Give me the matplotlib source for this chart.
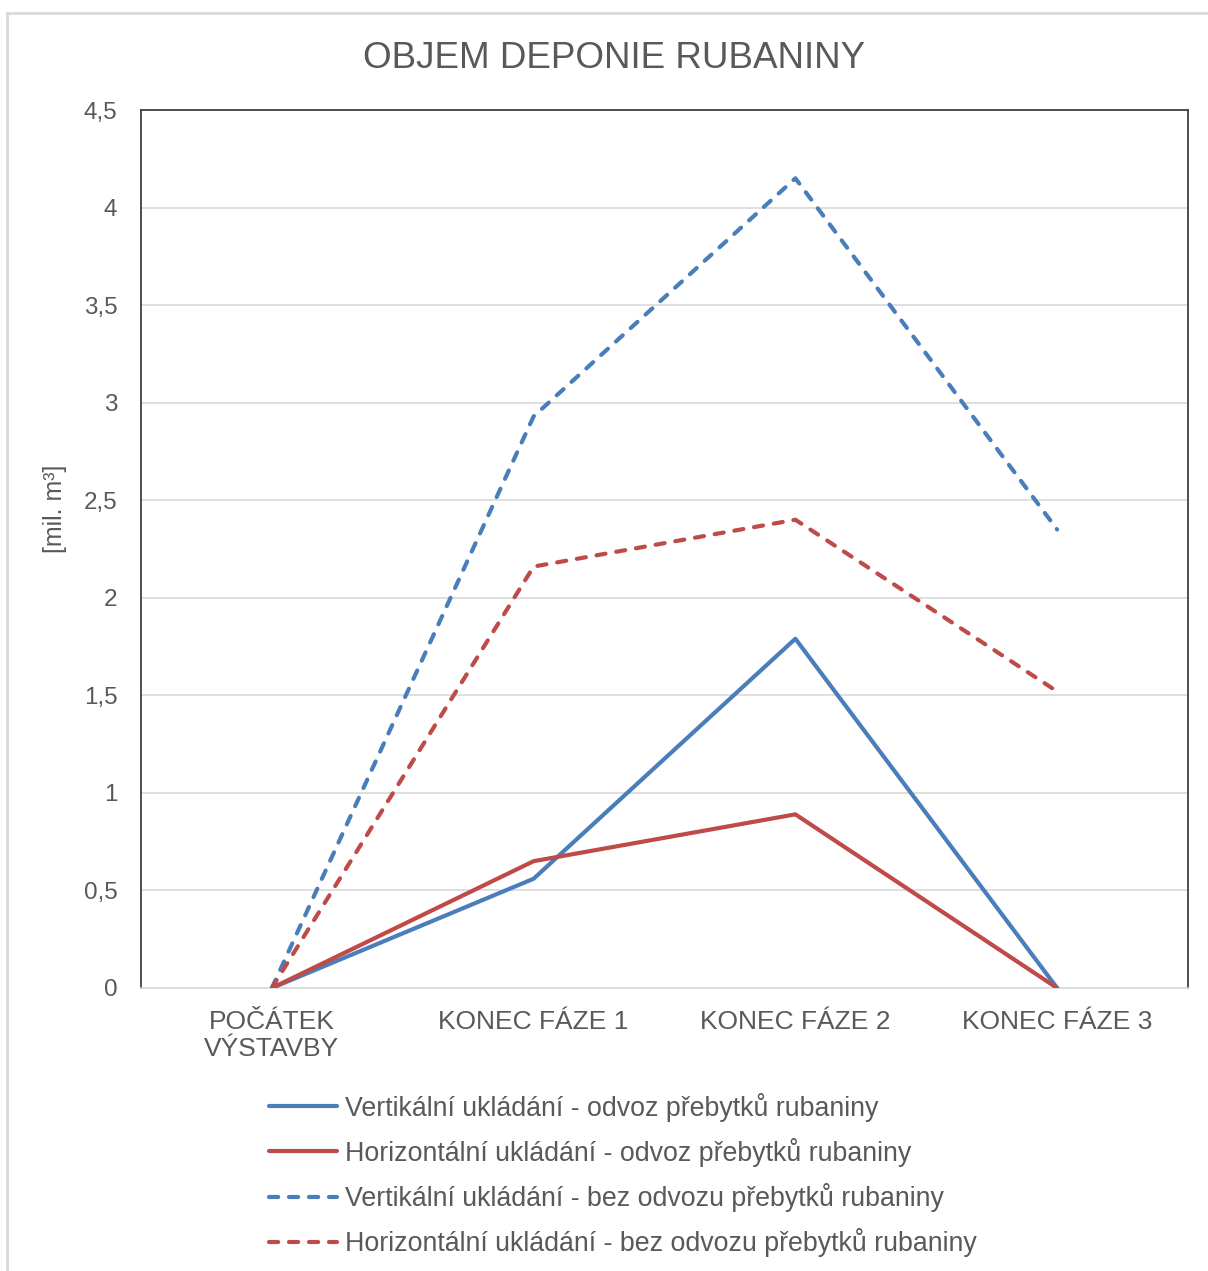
import matplotlib
matplotlib.use("Agg")
import matplotlib.pyplot as plt
from matplotlib.lines import Line2D

plt.rcParams['font.family'] = ['Liberation Sans', 'DejaVu Sans']

categories = ["POČÁTEK\nVÝSTAVBY", "KONEC FÁZE 1", "KONEC FÁZE 2", "KONEC FÁZE 3"]
vert_odvoz = [0.0, 0.56, 1.79, 0.0]
horiz_odvoz = [0.0, 0.65, 0.89, 0.0]
vert_bez = [0.0, 2.93, 4.15, 2.35]
horiz_bez = [0.0, 2.16, 2.40, 1.52]
series_labels = [
    "Vertikální ukládání - odvoz přebytků rubaniny",
    "Horizontální ukládání - odvoz přebytků rubaniny",
    "Vertikální ukládání - bez odvozu přebytků rubaniny",
    "Horizontální ukládání - bez odvozu přebytků rubaniny",
]
y_ticks = [0, 0.5, 1, 1.5, 2, 2.5, 3, 3.5, 4, 4.5]

BLUE = "#4A7EBB"
RED = "#BE4B48"
TEXT = "#595959"
GRID = "#D9D9D9"

W, H = 1208, 1271
fig = plt.figure(figsize=(W / 100, H / 100), dpi=100)
fig.patch.set_facecolor("white")

# outer chart border (left and top edges visible)
fig.add_artist(Line2D([7 / W, 7 / W], [0, 1 - 13 / H], transform=fig.transFigure,
                      color="#D9D9D9", lw=2))
fig.add_artist(Line2D([7 / W, 1], [1 - 13 / H, 1 - 13 / H], transform=fig.transFigure,
                      color="#D9D9D9", lw=2))

ax = fig.add_axes([141 / W, 1 - 988 / H, (1188 - 141) / W, (988 - 110) / H])

x = [i + 0.5 for i in range(len(categories))]
lw = 3.0
ax.plot(x, vert_odvoz, color=BLUE, lw=lw, solid_capstyle="round", solid_joinstyle="round",
        label=series_labels[0], zorder=3)
ax.plot(x, horiz_odvoz, color=RED, lw=lw, solid_capstyle="round", solid_joinstyle="round",
        label=series_labels[1], zorder=4)
ax.plot(x, vert_bez, color=BLUE, lw=lw, dashes=(2.2, 2.6), dash_capstyle="round",
        dash_joinstyle="round", label=series_labels[2], zorder=3)
ax.plot(x, horiz_bez, color=RED, lw=lw, dashes=(2.2, 2.6), dash_capstyle="round",
        dash_joinstyle="round", label=series_labels[3], zorder=3)

ax.set_xlim(0, len(categories))
ax.set_ylim(0, 4.5)
ax.set_yticks(y_ticks)
ax.set_yticklabels([f"{v:g}".replace(".", ",") for v in y_ticks])
ax.set_xticks(x)
ax.set_xticklabels(categories, linespacing=1.15)
ax.tick_params(axis="y", length=0, pad=17, labelsize=17.5, labelcolor=TEXT)
ax.tick_params(axis="x", length=0, pad=16, labelsize=19, labelcolor=TEXT)

ax.grid(axis="y", color=GRID, lw=1.2, zorder=0)
ax.set_axisbelow(True)
for side in ("left", "top", "right"):
    ax.spines[side].set_color("#404040")
    ax.spines[side].set_linewidth(1.3)
ax.spines["bottom"].set_color(GRID)
ax.spines["bottom"].set_linewidth(1.2)

ax.set_ylabel("[mil. m³]", fontsize=18, color=TEXT)
ax.yaxis.set_label_coords(-74 / (1188 - 141), (988 - 509) / (988 - 110))

fig.text(614 / W, 1 - 58 / H, "OBJEM DEPONIE RUBANINY", ha="center", va="center",
         fontsize=26.5, color=TEXT)

leg = fig.legend(loc="upper left", bbox_to_anchor=(258 / W, 1 - 1082 / H),
                 frameon=False, fontsize=19.3, handlelength=2.55, handletextpad=0.3,
                 labelspacing=0.6, borderaxespad=0)
for t in leg.get_texts():
    t.set_color(TEXT)

fig.savefig("out.png", dpi=100, facecolor="white")
